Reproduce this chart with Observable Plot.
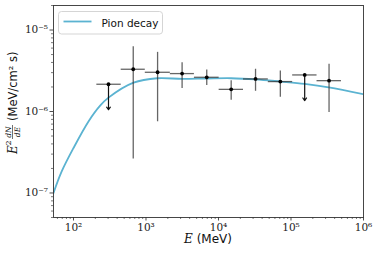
<!DOCTYPE html>
<html><head><meta charset="utf-8">
<script src="https://cdn.jsdelivr.net/npm/d3@7"></script>
<script src="https://cdn.jsdelivr.net/npm/@observablehq/plot@0.6"></script>
<style>body{margin:0;background:#fff}</style>
</head><body>
<script>
// Data points (Fermi-like SED bins)
const binLo = [210, 455, 978, 2167, 4656, 10210, 22130, 48640, 105400, 228600];
const binHi = [455, 978, 2167, 4656, 10210, 22130, 48640, 105400, 228600, 496800];
const energy = [304, 667, 1445, 3148, 6887, 14960, 32430, 71270, 154500, 334800];
const flux = [2.16e-6, 3.30e-6, 3.03e-6, 2.92e-6, 2.63e-6, 1.87e-6, 2.51e-6, 2.33e-6, 2.81e-6, 2.39e-6];
const fluxHi = [2.16e-6, 6.25e-6, 5.32e-6, 3.98e-6, 3.24e-6, 2.39e-6, 3.30e-6, 3.15e-6, 2.81e-6, 3.79e-6];
const fluxLo = [1.05e-6, 2.61e-7, 7.48e-7, 1.91e-6, 2.08e-6, 1.37e-6, 1.77e-6, 1.50e-6, 1.36e-6, 9.72e-7];
const upperLimit = [true, false, false, false, false, false, false, false, true, false];

// Pion decay model curve
const modelE = [53, 69, 100, 161, 233, 304, 674, 1432, 3177, 6823, 14960, 32430, 71900, 154500, 331000, 1e6];
const modelFlux = [1.0e-7, 1.85e-7, 3.56e-7, 7.55e-7, 1.18e-6, 1.48e-6, 2.26e-6, 2.56e-6, 2.51e-6, 2.54e-6, 2.56e-6, 2.48e-6, 2.33e-6, 2.18e-6, 1.98e-6, 1.63e-6];

const xMajor = [1e2, 1e3, 1e4, 1e5, 1e6];
const yMajor = [1e-7, 1e-6, 1e-5];
const legendLabel = "Pion decay";
const curveColor = "#5bb3d1";

const pts = energy.map((e, i) => ({e, f: flux[i], lo: binLo[i], hi: binHi[i], fl: fluxLo[i], fh: fluxHi[i], ul: upperLimit[i]}));
const model = modelE.map((e, i) => ({e, f: modelFlux[i]}));

const supMap = {"-": "\u207B", "0": "\u2070", "1": "\u00B9", "2": "\u00B2", "3": "\u00B3", "4": "\u2074", "5": "\u2075", "6": "\u2076", "7": "\u2077", "8": "\u2078", "9": "\u2079"};
const fmt = v => "10" + String(Math.round(Math.log10(v))).split("").map(c => supMap[c]).join("");

function minors(lo, hi) {
  const out = [];
  for (let d = Math.floor(Math.log10(lo)); d <= Math.ceil(Math.log10(hi)); d++) {
    for (let k = 2; k <= 9; k++) { const v = k * Math.pow(10, d); if (v >= lo && v <= hi) out.push(v); }
  }
  return out;
}
const xDom = [53, 1e6], yDom = [5e-8, 2e-5];

const plot = Plot.plot({
  width: 374, height: 255,
  marginLeft: 53, marginRight: 11, marginTop: 5, marginBottom: 38,
  style: {fontFamily: "DejaVu Sans", background: "#fff", color: "#222"},
  x: {type: "log", domain: xDom, label: null},
  y: {type: "log", domain: yDom, label: null},
  marks: [
    Plot.axisX({ticks: minors(...xDom), tickSize: 2, tickFormat: () => "", label: null, strokeWidth: 0.6}),
    Plot.axisY({ticks: minors(...yDom), tickSize: 2, tickFormat: () => "", label: null, strokeWidth: 0.6}),
    Plot.axisX({ticks: xMajor, tickSize: 3.5, tickPadding: 2.5, tickFormat: fmt, label: null, fontSize: 10.5, fontFamily: "DejaVu Serif", strokeWidth: 0.8}),
    Plot.axisY({ticks: yMajor, tickSize: 3.5, tickPadding: 2, tickFormat: fmt, label: null, fontSize: 10.5, fontFamily: "DejaVu Serif", strokeWidth: 0.8}),
    Plot.line(model, {x: "e", y: "f", stroke: curveColor, strokeWidth: 1.8, curve: "catmull-rom", clip: true}),
    Plot.ruleY(pts, {y: "f", x1: "lo", x2: "hi", stroke: "#333", strokeOpacity: 0.75, strokeWidth: 1.3}),
    Plot.ruleX(pts.filter(d => !d.ul), {x: "e", y1: "fl", y2: "fh", stroke: "#333", strokeOpacity: 0.75, strokeWidth: 1.3}),
    Plot.arrow(pts.filter(d => d.ul), {x1: "e", y1: "f", x2: "e", y2: "fl", stroke: "#111", strokeWidth: 1.2, headLength: 4, headAngle: 70}),
    Plot.dot(pts, {x: "e", y: "f", r: 1.9, fill: "#000", stroke: "none"}),
    Plot.frame({stroke: "#333", strokeWidth: 0.9})
  ]
});
document.body.appendChild(plot);

const svg = d3.select(plot);
// Legend
const lg = svg.append("g").attr("text-anchor", "start");
lg.append("rect").attr("x", 58.5).attr("y", 11.5).attr("width", 104).attr("height", 22.5).attr("rx", 3)
  .attr("fill", "#fff").attr("fill-opacity", 0.85).attr("stroke", "#d0d0d0").attr("stroke-width", 0.9);
lg.append("line").attr("x1", 63.5).attr("x2", 91.5).attr("y1", 21.5).attr("y2", 21.5).attr("stroke", curveColor).attr("stroke-width", 1.8);
lg.append("text").attr("x", 101.5).attr("y", 26.5).attr("font-size", 10.5).attr("font-family", "DejaVu Sans").attr("fill", "#111").text(legendLabel);

// X axis label
const xl = svg.append("text").attr("x", 208).attr("y", 243).attr("text-anchor", "middle").attr("font-size", 12).attr("fill", "#111");
xl.append("tspan").attr("font-family", "DejaVu Serif").attr("font-style", "italic").text("E");
xl.append("tspan").attr("font-family", "DejaVu Sans").text(" (MeV)");

// Y axis label (rotated)
const yl = svg.append("g").attr("transform", "translate(17,154) rotate(-90)").attr("fill", "#111").attr("text-anchor", "start");
yl.append("text").attr("x", 0).attr("y", 0).attr("font-size", 12).attr("font-family", "DejaVu Serif").attr("font-style", "italic").text("E");
yl.append("text").attr("x", 8.5).attr("y", -6).attr("font-size", 8).attr("font-family", "DejaVu Serif").text("2");
yl.append("text").attr("x", 22).attr("y", -6.5).attr("text-anchor", "middle").attr("font-size", 7.5).attr("font-family", "DejaVu Serif").attr("font-style", "italic").text("dN");
yl.append("line").attr("x1", 15).attr("x2", 29).attr("y1", -4.5).attr("y2", -4.5).attr("stroke", "#111").attr("stroke-width", 0.6);
yl.append("text").attr("x", 22).attr("y", 2.5).attr("text-anchor", "middle").attr("font-size", 7.5).attr("font-family", "DejaVu Serif").attr("font-style", "italic").text("dE");
yl.append("text").attr("x", 33).attr("y", 0).attr("font-size", 11.5).attr("font-family", "DejaVu Sans").text("(MeV/cm\u00B2 s)");
</script>
</body></html>
